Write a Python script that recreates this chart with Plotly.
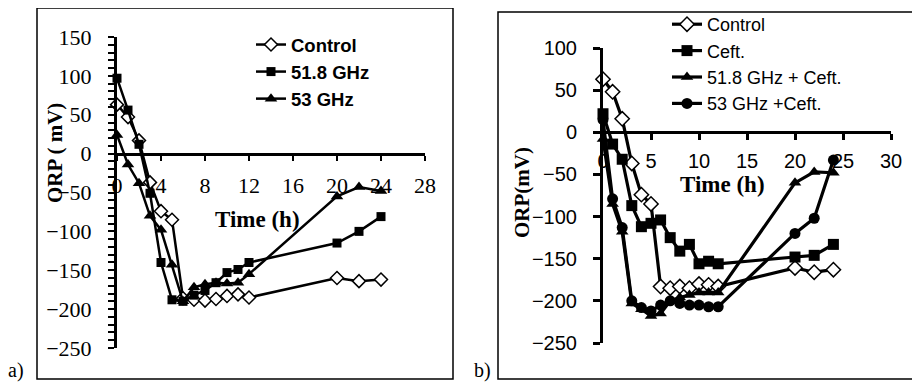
import plotly.graph_objects as go

# ---------------- data ----------------
time_h = [0, 1, 2, 3, 4, 5, 6, 7, 8, 9, 10, 11, 12, 20, 22, 24]

# panel a
a_control = [63, 47, 17, -37, -74, -85, -186, -188, -189, -187, -183, -181, -185, -160, -164, -162]
a_518 = [97, 56, 12, -51, -140, -188, -190, -182, -176, -166, -153, -149, -140, -115, -100, -81]
a_53 = [24, -14, -38, -80, -98, -143, -190, -172, -168, -166, -167, -166, -155, -55, -43, -48]

# panel b
b_control = [63, 48, 16, -37, -74, -85, -183, -185, -183, -185, -180, -181, -183, -161, -166, -163]
b_ceft = [22, -14, -32, -87, -112, -108, -104, -125, -141, -133, -156, -153, -156, -148, -146, -133]
b_518_ceft = [-8, -85, -118, -203, -210, -218, -215, -200, -196, -193, -190, -190, -190, -60, -47, -48]
b_53_ceft = [15, -79, -113, -200, -208, -212, -205, -200, -203, -205, -205, -207, -207, -120, -102, -33]

a_names = ["Control", "51.8 GHz", "53 GHz"]
b_names = ["Control", "Ceft.", "51.8 GHz + Ceft.", "53 GHz +Ceft."]

a_xticks = [0, 4, 8, 12, 16, 20, 24, 28]
a_yticks = [150, 100, 50, 0, -50, -100, -150, -200, -250]
b_xticks = [0, 5, 10, 15, 20, 25, 30]
b_yticks = [100, 50, 0, -50, -100, -150, -200, -250]

W, H = 920, 382
OFF = 8  # page body margin
SERIF = "Liberation Serif, Times New Roman, serif"
SANS = "Liberation Sans, Arial, sans-serif"

fig = go.Figure()

# panel a traces
a_styles = [
    dict(symbol="diamond", size=10, color="white", line=dict(color="black", width=1.5)),
    dict(symbol="square", size=9, color="black"),
    dict(symbol="triangle-up", size=11, color="black"),
]
for name, vals, mk in zip(a_names, [a_control, a_518, a_53], a_styles):
    fig.add_trace(go.Scatter(
        x=time_h, y=vals, name=name, mode="lines+markers",
        line=dict(color="black", width=2.5), marker=mk,
        xaxis="x", yaxis="y", legend="legend", cliponaxis=False,
    ))

b_styles = [
    dict(symbol="diamond", size=11, color="white", line=dict(color="black", width=1.5)),
    dict(symbol="square", size=11, color="black"),
    dict(symbol="triangle-up", size=11, color="black"),
    dict(symbol="circle", size=11, color="black"),
]
for name, vals, mk in zip(b_names, [b_control, b_ceft, b_518_ceft, b_53_ceft], b_styles):
    fig.add_trace(go.Scatter(
        x=time_h, y=vals, name=name, mode="lines+markers",
        line=dict(color="black", width=3.2), marker=mk,
        xaxis="x2", yaxis="y2", legend="legend2", cliponaxis=False,
    ))

def px_x(p):
    return (p - OFF) / W

def px_y(p):
    return 1 - (p - OFF) / H

# axes
fig.update_layout(
    xaxis=dict(
        domain=[px_x(117), px_x(425)], range=[0, 28], anchor="free", position=px_y(154),
        tickvals=a_xticks, ticks="outside", ticklen=5, tickwidth=2, tickcolor="black",
        showline=True, linewidth=3, linecolor="black", showgrid=False, zeroline=False,
        tickfont=dict(family=SERIF, size=22, color="black"), ticklabelstandoff=6,
        automargin=False,
    ),
    yaxis=dict(
        domain=[px_y(348), px_y(37)], range=[-250, 150], anchor="x",
        tickvals=a_yticks, ticks="outside", ticklen=6, tickwidth=2, tickcolor="black",
        minor=dict(dtick=10, ticks="outside", ticklen=6, tickwidth=2, tickcolor="black"),
        showline=True, linewidth=3, linecolor="black", showgrid=False, zeroline=False,
        tickfont=dict(family=SERIF, size=22, color="black"), ticklabelstandoff=12,
        automargin=False,
    ),
    xaxis2=dict(
        domain=[px_x(603), px_x(891)], range=[0, 30], anchor="free", position=px_y(132),
        tickvals=b_xticks, ticks="outside", ticklen=6, tickwidth=2.5, tickcolor="black",
        showline=True, linewidth=3, linecolor="black", showgrid=False, zeroline=False,
        tickfont=dict(family=SANS, size=20, color="black"), ticklabelstandoff=4,
        automargin=False,
    ),
    yaxis2=dict(
        domain=[px_y(343), px_y(48)], range=[-250, 100], anchor="x2",
        tickvals=b_yticks, ticks="outside", ticklen=7, tickwidth=2.5, tickcolor="black",
        showline=True, linewidth=3, linecolor="black", showgrid=False, zeroline=False,
        tickfont=dict(family=SANS, size=20, color="black"), ticklabelstandoff=12,
        automargin=False,
    ),
)

fig.update_layout(
    width=W, height=H, margin=dict(l=0, r=0, t=0, b=0, autoexpand=False),
    paper_bgcolor="white", plot_bgcolor="rgba(0,0,0,0)",
    showlegend=True,
    legend=dict(
        x=px_x(251), y=px_y(26), xanchor="left", yanchor="top",
        font=dict(family=SANS, size=18.5, color="black", weight="bold"),
        bgcolor="rgba(0,0,0,0)", tracegroupgap=0, traceorder="normal",
    ),
    legend2=dict(
        x=px_x(667), y=px_y(6), xanchor="left", yanchor="top",
        font=dict(family=SANS, size=18, color="black"),
        bgcolor="rgba(0,0,0,0)", tracegroupgap=0, traceorder="normal",
    ),
)

# panel borders
fig.add_shape(type="rect", xref="paper", yref="paper",
              x0=px_x(37), x1=px_x(453), y0=px_y(379), y1=px_y(8),
              line=dict(color="black", width=1.5), layer="below")
fig.add_shape(type="rect", xref="paper", yref="paper",
              x0=px_x(498), x1=px_x(917), y0=px_y(379), y1=px_y(12),
              line=dict(color="black", width=1.5), layer="below")

ann = [
    dict(text="<b>ORP ( mV)</b>", x=px_x(55), y=px_y(153), textangle=-90, size=21),
    dict(text="<b>Time (h)</b>", x=px_x(257), y=px_y(219), textangle=0, size=23),
    dict(text="<b>ORP(mV)</b>", x=px_x(522), y=px_y(193), textangle=-90, size=21),
    dict(text="<b>Time (h)</b>", x=px_x(722), y=px_y(184), textangle=0, size=23),
    dict(text="a)", x=px_x(16), y=px_y(370), textangle=0, size=20),
    dict(text="b)", x=px_x(482), y=px_y(370), textangle=0, size=20),
]
for a in ann:
    fig.add_annotation(
        text=a["text"], x=a["x"], y=a["y"], xref="paper", yref="paper",
        showarrow=False, textangle=a["textangle"], xanchor="center", yanchor="middle",
        font=dict(family=SERIF, size=a["size"], color="black"),
    )

fig.write_html("out.html")
